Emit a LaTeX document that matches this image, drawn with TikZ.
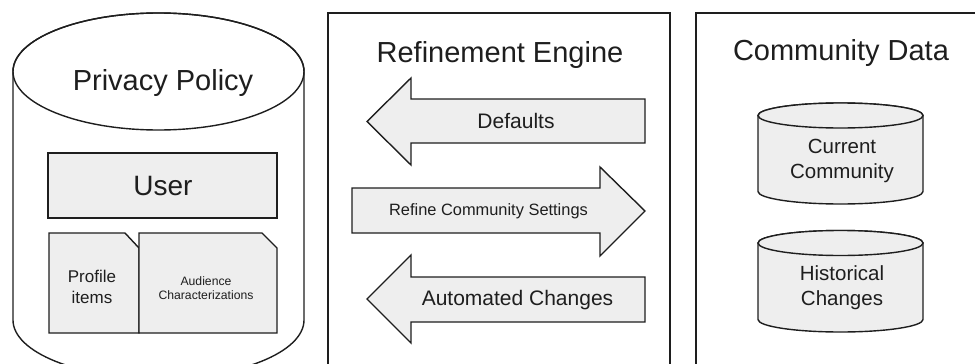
\documentclass[tikz,border=0pt]{standalone}
\usepackage{fontspec}
\setmainfont{Liberation Sans}
\definecolor{boxfill}{HTML}{EEEEEE}
\definecolor{ink}{HTML}{1E1E1E}
\begin{document}
\begin{tikzpicture}[x=1pt,y=1pt,
  outline/.style={draw=ink, line width=1.4pt, line join=miter},
  panel/.style={outline, fill=white},
  shade/.style={outline, fill=boxfill},
  label/.style={text=ink, align=center, inner sep=0pt}]
\useasboundingbox (0,0) rectangle (975,-364);
\clip (0,0) rectangle (975,-364);

% Privacy policy store (large cylinder)
\path[panel] (13,-71.5) -- (13,-320)
  arc[start angle=180,end angle=360,x radius=145.5,y radius=58.5]
  -- (304,-71.5)
  arc[start angle=0,end angle=180,x radius=145.5,y radius=58.5] -- cycle;
\draw[outline] (158.5,-71.5) ellipse [x radius=145.5, y radius=58.5];
\node[label, font=\fontsize{29}{34}\selectfont] (pp) at (163,-83) {Privacy Policy};

\draw[shade] (48,-153) rectangle (277,-218);
\node[label, font=\fontsize{28}{33}\selectfont] (user) at (163,-186) {User};

\draw[shade] (49,-233) -- (125,-233) -- (139,-248) -- (139,-333) -- (49,-333) -- cycle;
\node[label, font=\fontsize{17}{20.5}\selectfont] (prof) at (92,-287) {Profile\\items};
\draw[shade] (139,-233) -- (262,-233) -- (277,-248) -- (277,-333) -- (139,-333) -- cycle;
\node[label, font=\fontsize{12.2}{14.5}\selectfont] (aud) at (206,-288) {Audience\\Characterizations};

% Refinement engine panel
\draw[outline] (328,-400) -- (328,-13) -- (670,-13) -- (670,-400);
\node[label, font=\fontsize{29}{34}\selectfont] (re) at (500,-55) {Refinement Engine};

\draw[shade] (645,-99) -- (411,-99) -- (411,-78) -- (367,-121.5) -- (411,-165)
  -- (411,-143) -- (645,-143) -- cycle;
\node[label, font=\fontsize{21}{25}\selectfont] (def) at (516,-121) {Defaults};

\draw[shade] (352,-188) -- (600,-188) -- (600,-167) -- (645,-211) -- (600,-256)
  -- (600,-233) -- (352,-233) -- cycle;
\node[label, font=\fontsize{16.4}{20}\selectfont] (rcs) at (488.5,-211) {Refine Community Settings};

\draw[shade] (645,-277) -- (411,-277) -- (411,-255) -- (367,-299) -- (411,-343)
  -- (411,-322) -- (645,-322) -- cycle;
\node[label, font=\fontsize{21}{25}\selectfont] (auto) at (517.5,-300) {Automated Changes};

% Community data panel
\draw[outline] (696,-400) -- (696,-13) -- (1000,-13);
\node[label, font=\fontsize{29}{34}\selectfont] (cd) at (841,-53) {Community Data};

\path[shade] (758,-115.5) -- (758,-191.5)
  arc[start angle=180,end angle=360,x radius=82.5,y radius=12.5]
  -- (923,-115.5)
  arc[start angle=0,end angle=180,x radius=82.5,y radius=12.5] -- cycle;
\draw[shade] (840.5,-115.5) ellipse [x radius=82.5, y radius=12.5];
\node[label, font=\fontsize{20.5}{25}\selectfont] (cur) at (842,-160.5) {Current\\Community};

\path[shade] (758,-243) -- (758,-319.5)
  arc[start angle=180,end angle=360,x radius=82.5,y radius=12.5]
  -- (923,-243)
  arc[start angle=0,end angle=180,x radius=82.5,y radius=12.5] -- cycle;
\draw[shade] (840.5,-243) ellipse [x radius=82.5, y radius=12.5];
\node[label, font=\fontsize{20.5}{25}\selectfont] (hist) at (842,-287.5) {Historical\\Changes};
\end{tikzpicture}
\end{document}
